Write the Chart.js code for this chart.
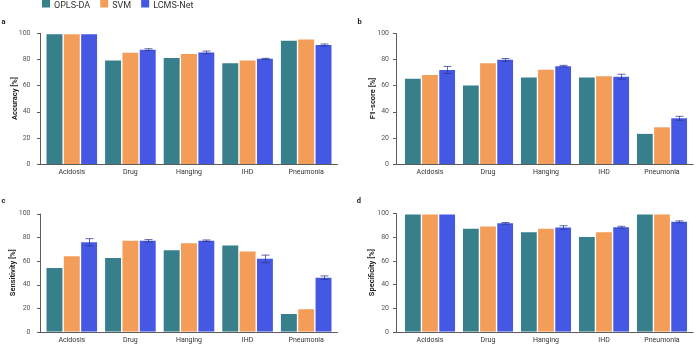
<!DOCTYPE html>
<html><head><meta charset="utf-8">
<script src="https://cdn.jsdelivr.net/npm/chart.js@4.4.1/dist/chart.umd.min.js"></script>
<style>
html,body{margin:0;padding:0;background:#fff;}
#wrap{position:relative;width:696px;height:348px;overflow:hidden;background:#fff;}
#wrap canvas{position:absolute;left:0;top:0;}
</style></head><body>
<div id="wrap">
<canvas id="ca" width="696" height="348"></canvas>
<canvas id="cb" width="696" height="348"></canvas>
<canvas id="cc" width="696" height="348"></canvas>
<canvas id="cd" width="696" height="348"></canvas>
</div>
<script>
// ---- data ----
const categories = ['Acidosis', 'Drug', 'Hanging', 'IHD', 'Pneumonia'];
const seriesNames = ['OPLS-DA', 'SVM', 'LCMS-Net'];
const yTickValues = [0, 20, 40, 60, 80, 100];

const accuracyOPLS = [99, 79, 81, 77, 94];
const accuracySVM  = [99, 85, 84, 79, 95];
const accuracyLCMS = [99, 87.3, 85.2, 80.3, 90.8];
const accuracyErr  = [0, 0.7, 1.0, 0.4, 0.8];

const f1OPLS = [65, 60, 66, 66, 23];
const f1SVM  = [68, 77, 72, 67, 28];
const f1LCMS = [71.8, 79.5, 74.7, 66.6, 34.9];
const f1Err  = [2.7, 1.0, 0.6, 1.9, 1.5];

const sensOPLS = [54, 62.5, 69, 73, 15];
const sensSVM  = [64, 77, 75, 68, 19];
const sensLCMS = [75.8, 77, 77, 61.7, 45.8];
const sensErr  = [3.0, 1.0, 0.7, 3.2, 1.5];

const specOPLS = [99, 87, 84, 80, 99];
const specSVM  = [99, 89, 87, 84, 99];
const specLCMS = [99, 91.6, 88.1, 88.3, 92.9];
const specErr  = [0, 0.7, 1.5, 0.8, 0.8];

// ---- styling / layout ----
const COLORS = ['#367F8B', '#F49D59', '#4558E3'];
const FONT = 'Roboto';
const YW = 42, XH = 14;

const panels = [
  {id: 'ca', letter: 'a', lx: 1.5, ly: 22, title: 'Accuracy [%]', series: [accuracyOPLS, accuracySVM, accuracyLCMS], err: accuracyErr,
   L: 42.5, R: 335.5, T: 33, B: 164, axisX: 40, titlePad: 10, legend: true},
  {id: 'cb', letter: 'b', lx: 357.5, ly: 22, title: 'F1-score [%]', series: [f1OPLS, f1SVM, f1LCMS], err: f1Err,
   L: 401, R: 691, T: 33, B: 164, axisX: 395.5, titlePad: 9.2, legend: false},
  {id: 'cc', letter: 'c', lx: 1.5, ly: 201, title: 'Sensitivity [%]', series: [sensOPLS, sensSVM, sensLCMS], err: sensErr,
   L: 42.5, R: 335.5, T: 213.6, B: 334.3, axisX: 40, titlePad: 8.5, legend: false},
  {id: 'cd', letter: 'd', lx: 356.8, ly: 201, title: 'Specificity [%]', series: [specOPLS, specSVM, specLCMS], err: specErr,
   L: 401, R: 691, T: 213.4, B: 334.1, axisX: 395.5, titlePad: 8.3, legend: false}
];

const decor = {
  id: 'decor',
  afterDatasetsDraw(chart) {
    const ctx = chart.ctx, ys = chart.scales.y;
    chart.data.datasets.forEach((ds, di) => {
      if (!ds.errors) return;
      const meta = chart.getDatasetMeta(di);
      ctx.save();
      ctx.strokeStyle = 'rgba(45,55,140,0.75)';
      ctx.lineWidth = 1;
      ds.errors.forEach((e, i) => {
        if (!e) return;
        const bar = meta.data[i];
        const x = Math.round(bar.x) + 0.5;
        const yt = ys.getPixelForValue(ds.data[i] + e);
        const yb = ys.getPixelForValue(ds.data[i] - e);
        ctx.beginPath();
        ctx.moveTo(x, yt); ctx.lineTo(x, yb);
        ctx.moveTo(x - 4, yt); ctx.lineTo(x + 4, yt);
        ctx.moveTo(x - 4, yb); ctx.lineTo(x + 4, yb);
        ctx.stroke();
      });
      ctx.restore();
    });
  },
  afterDraw(chart) {
    const p = chart.config._config.panel;
    const ctx = chart.ctx, ys = chart.scales.y;
    const y0 = Math.round(ys.getPixelForValue(0)) + 0.5;
    const y100 = ys.getPixelForValue(100);
    const ax = Math.round(p.axisX) + 0.5;
    ctx.save();
    ctx.strokeStyle = '#5c5c5c';
    ctx.lineWidth = 1;
    ctx.beginPath();
    ctx.moveTo(ax, y100); ctx.lineTo(ax, y0);
    ys.ticks.forEach(t => {
      const py = Math.round(ys.getPixelForValue(t.value)) + 0.5;
      ctx.moveTo(ax - 3.5, py); ctx.lineTo(ax, py);
    });
    ctx.moveTo(ax - 2.5, y0); ctx.lineTo(p.R + 2.5, y0);
    ctx.stroke();
    // panel letter
    ctx.fillStyle = '#222';
    ctx.font = 'bold 7.5px ' + FONT;
    ctx.textBaseline = 'middle';
    ctx.textAlign = 'left';
    ctx.fillText(p.letter, p.lx, p.ly);
    // legend
    if (p.legend) {
      ctx.font = '9px ' + FONT;
      ctx.textBaseline = 'alphabetic';
      let x = 42;
      chart.data.datasets.forEach(ds => {
        ctx.fillStyle = ds.backgroundColor;
        ctx.fillRect(x, -0.5, 8, 8);
        ctx.fillStyle = '#333';
        ctx.fillText(ds.label, x + 12, 7.5);
        x += 12 + ctx.measureText(ds.label).width + 10;
      });
    }
    ctx.restore();
  }
};

panels.forEach(p => {
  const datasets = p.series.map((vals, si) => {
    const ds = {
      label: seriesNames[si],
      data: vals,
      backgroundColor: COLORS[si],
      borderWidth: 0,
      categoryPercentage: 0.887,
      barPercentage: 0.92
    };
    if (si === 2) ds.errors = p.err;
    return ds;
  });
  const cfg = {
    type: 'bar',
    data: {labels: categories, datasets},
    plugins: [decor],
    options: {
      responsive: false,
      animation: false,
      events: [],
      layout: {padding: {left: p.L - YW, right: 696 - p.R, top: p.T, bottom: 348 - p.B - XH}},
      plugins: {legend: {display: false}, tooltip: {enabled: false}, title: {display: false}},
      scales: {
        x: {
          grid: {display: false, drawTicks: false},
          border: {display: false},
          ticks: {font: {family: FONT, size: 7}, color: '#333', padding: 4, maxRotation: 0, autoSkip: false},
          afterFit(s) { s.height = XH; }
        },
        y: {
          min: 0, max: 100,
          grid: {display: false, drawTicks: false},
          border: {display: false},
          ticks: {font: {family: FONT, size: 7}, color: '#555', padding: 12},
          afterBuildTicks(s) { s.ticks = yTickValues.map(v => ({value: v})); },
          title: {display: true, text: p.title, font: {family: FONT, size: 7.5, weight: 'bold'}, color: '#222',
                  padding: {top: p.titlePad, bottom: 0}},
          afterFit(s) { s.width = YW; }
        }
      }
    }
  };
  cfg.panel = p;
  const chart = new Chart(document.getElementById(p.id), cfg);
  chart.config._config.panel = p;
  chart.draw();
});
</script>
</body></html>
